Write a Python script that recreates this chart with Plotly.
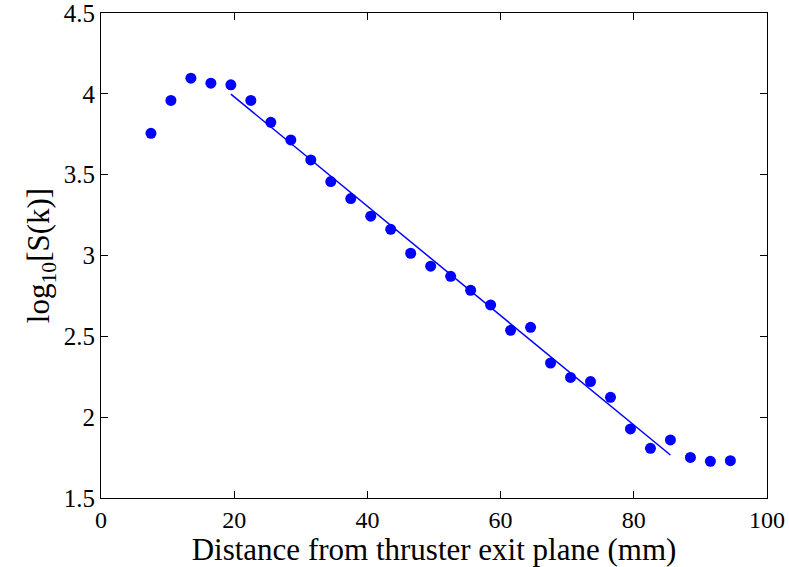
import plotly.graph_objects as go

# Measured signal strength vs. distance from the thruster exit plane
distance_mm = [7.5, 10.5, 13.5, 16.5, 19.5, 22.5, 25.5, 28.5, 31.5, 34.5,
               37.5, 40.5, 43.5, 46.5, 49.5, 52.5, 55.5, 58.5, 61.5, 64.5,
               67.5, 70.5, 73.5, 76.5, 79.5, 82.5, 85.5, 88.5, 91.5, 94.5]
log_s = [3.756, 3.959, 4.097, 4.066, 4.056, 3.959, 3.824, 3.715, 3.591, 3.457,
         3.352, 3.243, 3.162, 3.014, 2.934, 2.871, 2.785, 2.694, 2.537, 2.556,
         2.335, 2.246, 2.220, 2.123, 1.927, 1.807, 1.859, 1.751, 1.727, 1.731]

# Linear fit over the decay region
fit_x = [19.5, 85.5]
fit_y = [3.998, 1.766]

x_ticks = [0, 20, 40, 60, 80, 100]
y_ticks = [1.5, 2, 2.5, 3, 3.5, 4, 4.5]
y_tick_text = ["1.5", "2", "2.5", "3", "3.5", "4", "4.5"]

serif = "Liberation Serif"

fig = go.Figure()
fig.add_trace(go.Scatter(
    x=distance_mm, y=log_s, mode="markers",
    marker=dict(color="#0000ff", size=11, line=dict(width=0)),
    showlegend=False,
))
fig.add_trace(go.Scatter(
    x=fit_x, y=fit_y, mode="lines",
    line=dict(color="#0000ff", width=1.5),
    showlegend=False,
))

fig.update_layout(
    width=789, height=567,
    margin=dict(l=101, r=22, t=13, b=69),
    paper_bgcolor="white", plot_bgcolor="white",
    font=dict(family=serif, size=25, color="black"),
)
fig.update_xaxes(
    range=[0, 100], tickmode="array", tickvals=x_ticks,
    ticktext=[str(v) for v in x_ticks], automargin=False,
    ticklabeloverflow="allow",
    showline=True, linecolor="black", linewidth=1, mirror="ticks",
    ticks="inside", ticklen=7, tickcolor="black", tickwidth=1,
    showgrid=False, zeroline=False,
    tickfont_family=serif, tickfont_size=24, tickfont_color="black",
    title_text="Distance from thruster exit plane (mm)",
    title_font_family=serif, title_font_size=31, title_standoff=0,
)
fig.update_yaxes(
    range=[1.5, 4.5], tickmode="array", tickvals=y_ticks,
    ticktext=y_tick_text, automargin=False,
    ticklabeloverflow="allow",
    showline=True, linecolor="black", linewidth=1, mirror="ticks",
    ticks="inside", ticklen=7, tickcolor="black", tickwidth=1,
    showgrid=False, zeroline=False,
    tickfont_family=serif, tickfont_size=25, tickfont_color="black",
    title_text="log<sub>10</sub>[S(k)]",
    title_font_family=serif, title_font_size=31, title_standoff=4,
)

fig.write_html("out.html")
